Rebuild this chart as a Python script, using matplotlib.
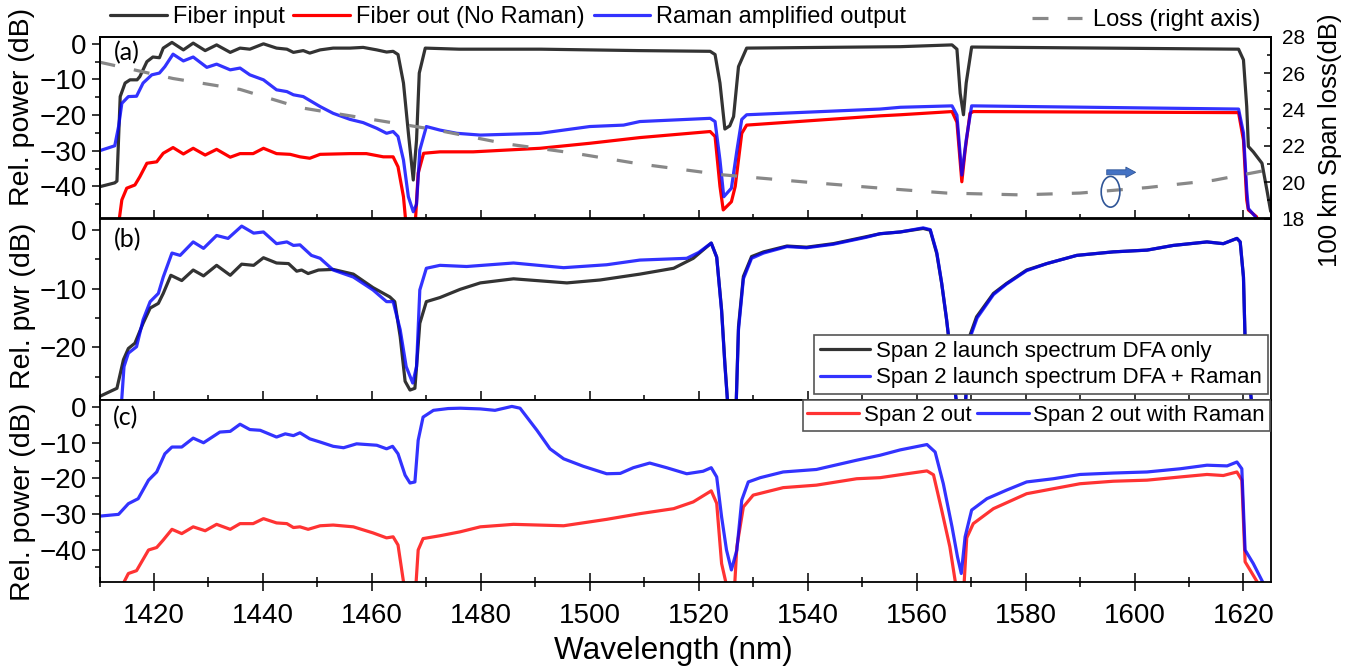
import numpy as np
import matplotlib
matplotlib.use('Agg')
import matplotlib.pyplot as plt
from matplotlib.patches import Ellipse
from matplotlib.ticker import MultipleLocator

plt.rcParams['font.family'] = ['Liberation Sans', 'DejaVu Sans']
plt.rcParams['lines.solid_joinstyle'] = 'round'
plt.rcParams['lines.solid_capstyle'] = 'round'

# ---------------- data ----------------
# Panel (a): fiber input
a_in_x = [1410, 1412.8, 1413.2, 1413.8, 1414.7, 1415.6, 1416.9, 1417.4, 1418.7, 1419.8, 1421, 1421.7,
          1423.3, 1425.4, 1427.2, 1429.4, 1431.5, 1434, 1435.8, 1437.6, 1440.1, 1442.5, 1444.4, 1445.6,
          1447.4, 1448.6, 1450.5, 1452.9, 1456, 1458.4, 1460.9, 1462.7, 1463.9, 1464.8, 1465.8, 1466.7,
          1467.6, 1468.2, 1468.7, 1469.8, 1476, 1491, 1509, 1522.1, 1523, 1523.9, 1524.8, 1525.7,
          1526.4, 1527.3, 1528.8, 1557, 1566.5, 1567.4, 1568, 1568.6, 1569.1, 1570.1, 1619.1, 1620,
          1620.6, 1620.9, 1621.8, 1623.4, 1624.3, 1625]
a_in_y = [-40.1, -39, -38.5, -14.8, -11, -10.1, -10.1, -9.2, -5, -3.7, -3.9, -1.2,
          0.4, -1.7, 0.2, -1.9, -0.3, -2.4, -1.2, -1.5, 0, -1.2, -1.5, -2.4,
          -1.9, -2.6, -1.7, -1.2, -1.2, -1.0, -1.7, -2.3, -2.1, -3, -11, -25,
          -38.2, -27, -8.2, -1.2, -1.5, -1.5, -1.9, -2.1, -3, -11, -23.9, -23,
          -20.4, -6.4, -1.2, -0.8, -0.3, -1.5, -13.9, -19.9, -11, -0.9, -1.5, -4.5,
          -17.6, -28.8, -30.3, -33.5, -41, -47]

# Panel (a): fiber out (no Raman)
a_out_x = [1413.6, 1414.1, 1415, 1416.5, 1417.4, 1418.7, 1420.5, 1421.7, 1423.5, 1425.4, 1427.2, 1429.4,
           1431.5, 1434, 1435.8, 1438.2, 1440.1, 1442.5, 1445, 1446.8, 1448.6, 1450.5, 1456, 1459,
           1462.1, 1463.9, 1464.8, 1465.8, 1466.2, 1467.0, 1468.0, 1468.5, 1469.5, 1472.5, 1478.6, 1490.9,
           1500, 1509.2, 1522.1, 1523, 1523.9, 1524.5, 1526, 1526.7, 1527.9, 1528.8, 1553.3, 1557,
           1566.5, 1567.4, 1568.3, 1568.9, 1569.8, 1570.4, 1619.1, 1620, 1620.6, 1620.9, 1622.4, 1623]
a_out_y = [-49.5, -43.8, -40.5, -39.6, -37.3, -33.5, -33.1, -30.7, -29.1, -30.9, -29.3, -31.2,
           -29.6, -31.8, -30.8, -30.8, -29.3, -30.8, -31, -31.7, -32.1, -31, -30.8, -30.8,
           -31.7, -31.7, -34.5, -42.9, -49.5, -60, -49.5, -36.3, -30.7, -30.3, -30.3, -29.3,
           -27.9, -26.3, -24.6, -26, -40, -46.6, -44.3, -40, -25.1, -22.8, -20.2, -19.9,
           -19, -22, -38.7, -30, -19.5, -19, -19.3, -27, -43.8, -46.6, -48.5, -52]

# Panel (a): Raman amplified output
a_ram_x = [1410, 1412.8, 1413.5, 1414.1, 1415.3, 1416.8, 1418, 1419.6, 1421, 1422, 1423.5, 1425.4,
           1427.2, 1429.7, 1431.5, 1434, 1435.8, 1437.6, 1440.1, 1442.5, 1444.4, 1445.6, 1447.4, 1450.5,
           1452.9, 1456, 1458.4, 1460.9, 1462.7, 1463.9, 1464.8, 1465.8, 1466.7, 1467.6, 1468.2, 1468.8,
           1470, 1472.5, 1475.6, 1479.9, 1490.9, 1500, 1506.2, 1509.2, 1522.1, 1523, 1523.9, 1524.6,
           1526, 1527, 1527.9, 1528.8, 1553.3, 1557, 1566.5, 1567.4, 1568.3, 1569.1, 1570.1, 1619.1,
           1620, 1620.6, 1620.9, 1622.2, 1623]
a_ram_y = [-30, -28.6, -23.2, -16.7, -14.8, -14.7, -11, -8.7, -8.2, -6.4, -2.9, -4.8,
           -3.7, -6.6, -5.7, -7.3, -6.8, -8.7, -10.1, -12.9, -13.4, -14.3, -14.8, -17.6,
           -19.5, -21.2, -22.1, -23.7, -25.1, -24.6, -26, -32.6, -42.9, -47.1, -45, -29.8,
           -23.2, -24.2, -25.1, -25.6, -25.1, -23.2, -22.8, -21.8, -20.9, -21.8, -32.6, -42.9,
           -40.5, -30, -21.2, -19.9, -18.3, -17.8, -17.4, -20, -36.8, -27, -17.4, -18.3,
           -25, -41, -46.2, -48.5, -52]

# Panel (a): 100 km span loss (right axis)
loss_x = [1410, 1423.5, 1435.8, 1446.8, 1459, 1471.3, 1484.8, 1497, 1509.2, 1524.5, 1539.8, 1552.1,
          1565.5, 1579, 1590, 1602.3, 1614.5, 1625]
loss_y = [26.6, 25.7, 25.1, 24.1, 23.5, 22.9, 22.1, 21.6, 21.0, 20.4, 20.0, 19.7,
          19.4, 19.3, 19.4, 19.7, 20.1, 20.7]

# Panel (b): span 2 launch spectrum, DFA only
b_dfa_x = [1410, 1413.2, 1414.4, 1415.3, 1416.5, 1418, 1419.3, 1420.8, 1421.7, 1423.1, 1425.1, 1427.2,
           1429.1, 1431.5, 1434, 1436.1, 1438.3, 1440.1, 1442.5, 1444.7, 1446.2, 1447.1, 1448.3, 1450.2,
           1452.9, 1456.6, 1460.2, 1463.3, 1464.2, 1465.2, 1466.1, 1467, 1467.9, 1468.8, 1470, 1472.5,
           1476.2, 1479.9, 1486, 1495.8, 1501.9, 1509.2, 1515.4, 1519, 1522.3, 1523.3, 1524.2, 1524.8,
           1525.5, 1526.8, 1527.3, 1528.2, 1529.7, 1531.9, 1536.2, 1539.8, 1544.7, 1550.8, 1553.3, 1557,
           1561.2, 1562.5, 1563.7, 1564.6, 1565.5, 1566.5, 1567.2, 1567.8, 1568.8, 1569.5, 1571, 1574.1,
           1576.5, 1580.2, 1583.9, 1589.4, 1596.1, 1602.3, 1607.1, 1613.3, 1616.3, 1618.8, 1619.4, 1620,
           1620.3, 1621.5, 1622]
b_dfa_y = [-28.4, -27, -22.1, -20.2, -19.3, -15.9, -13.3, -12.5, -10.8, -7.7, -8.6, -6.8,
           -7.8, -6, -7.7, -5.8, -6, -4.7, -5.6, -5.7, -7, -6.8, -7.4, -6.8,
           -6.7, -7.5, -9.8, -11.4, -12.2, -18.2, -25.8, -27.3, -27, -15.9, -12.2, -11.5,
           -10.1, -9, -8.3, -9, -8.5, -7.5, -6.5, -4.8, -2.2, -4.6, -13.6, -22.7,
           -32, -32, -16.5, -7.9, -4.5, -3.7, -2.7, -2.9, -2.3, -1.1, -0.6, -0.3,
           0.3, 0, -4, -9.1, -15.3, -23.3, -28.5, -33, -33, -18.7, -14.8, -10.8,
           -9.1, -6.8, -5.7, -4.3, -3.7, -3.4, -2.6, -2, -2.3, -1.4, -2, -8,
           -18.7, -29.5, -33]

# Panel (b): span 2 launch spectrum, DFA + Raman
b_ram_x = [1414.0, 1414.5, 1415.3, 1416.8, 1418, 1419.3, 1420.8, 1421.7, 1423.3, 1424.8, 1427.2, 1429.1,
           1431.5, 1433.6, 1436.1, 1438.3, 1440.1, 1442.5, 1444.4, 1445.6, 1446.8, 1448.9, 1450.5, 1452.9,
           1456.6, 1460.2, 1462.7, 1463.9, 1465.2, 1466.3, 1467.5, 1468.2, 1468.8, 1470, 1472.5, 1477.4,
           1486, 1495.2, 1503.1, 1509.2, 1517.8, 1520, 1522.3, 1523.3, 1524.2, 1524.8, 1525.5, 1526.8,
           1527.3, 1528.2, 1529.7, 1531.9, 1536.2, 1539.8, 1544.7, 1550.8, 1553.3, 1557, 1561.2, 1562.5,
           1563.7, 1564.6, 1565.5, 1566.5, 1567.2, 1567.8, 1568.8, 1569.6, 1571.1, 1574.1, 1576.5, 1580.2,
           1583.9, 1589.4, 1596.1, 1602.3, 1607.1, 1613.3, 1616.3, 1618.8, 1619.4, 1620, 1620.3, 1621.5,
           1622]
b_ram_y = [-30, -23.3, -21, -19.9, -15.3, -12.2, -10.8, -8, -3.9, -4.3, -2, -3.1,
           -0.9, -1.4, 0.7, -0.5, -0.3, -2.3, -2, -2.6, -2.5, -4.3, -4.8, -6.8,
           -8, -10.2, -12.2, -12.2, -17, -23.3, -26.1, -23.3, -10.2, -6.5, -6, -6.2,
           -5.6, -6.4, -5.9, -5.1, -4.8, -3.8, -2.2, -4.6, -13.8, -23, -32, -32,
           -17, -8.3, -4.8, -3.9, -2.8, -3.0, -2.4, -1.2, -0.6, -0.3, 0.4, 0.1,
           -3.8, -9, -15.2, -23.2, -28.5, -33, -33, -18.9, -15, -11, -9.2, -6.9,
           -5.7, -4.3, -3.7, -3.4, -2.6, -2, -2.3, -1.4, -2, -8, -18.7, -29.5,
           -33]

# Panel (c): span 2 out
c_out_x = [1414.2, 1415.3, 1416.8, 1419, 1420.5, 1421.7, 1423.3, 1425.1, 1427.2, 1429.4, 1431.5, 1434,
           1435.8, 1438.2, 1440.1, 1442.5, 1444.4, 1445.6, 1446.8, 1448.3, 1450.5, 1452.9, 1456.6, 1460.2,
           1462.7, 1463.9, 1464.8, 1465.8, 1466.4, 1467.2, 1468.0, 1468.5, 1469.4, 1472.5, 1476.2, 1479.9,
           1486, 1495.2, 1503.1, 1509.2, 1515.4, 1519, 1522.3, 1523.3, 1524.2, 1525.1, 1525.8, 1526.6,
           1527, 1528.2, 1530, 1535.5, 1541.6, 1549, 1553.3, 1558.2, 1561.9, 1563.1, 1564.6, 1566.1,
           1567.2, 1568.0, 1568.7, 1569.2, 1570.4, 1574.1, 1580.2, 1585.1, 1590, 1596.1, 1602.3, 1608.4,
           1613.3, 1616.3, 1618.8, 1619.7, 1620.3, 1622.5, 1623]
c_out_y = [-50, -46.7, -45.9, -40.1, -39.4, -37.3, -34.3, -35.5, -33.6, -34.7, -32.9, -34.3,
           -32.7, -32.7, -31.3, -32.5, -32.7, -33.8, -33.6, -34.3, -33.3, -33.1, -33.6, -35.3,
           -36.7, -36.4, -38.7, -49, -52, -60, -52, -40.1, -36.9, -36.1, -35, -33.6,
           -32.9, -33.3, -31.5, -29.9, -28.5, -26.6, -23.5, -27, -43.9, -50, -60, -50,
           -39.2, -28, -24.7, -22.6, -21.9, -20.1, -19.8, -18.7, -17.9, -19, -28.9, -39.2,
           -50, -60, -50, -36.7, -32.7, -28.5, -24.3, -22.9, -21.5, -20.8, -20.5, -19.6,
           -18.9, -19.2, -18.2, -20.5, -43.4, -49, -52]

# Panel (c): span 2 out with Raman
c_ram_x = [1410, 1413.5, 1415.3, 1417.1, 1419, 1420.5, 1422, 1423.3, 1425.1, 1427.2, 1429.1, 1432.1,
           1434, 1435.8, 1437.6, 1439.5, 1442.5, 1444.1, 1445.6, 1446.8, 1448.6, 1450.5, 1452.9, 1454.8,
           1457.2, 1460.9, 1462.7, 1463.8, 1464.8, 1466.1, 1467, 1467.9, 1468.5, 1469.4, 1471.3, 1474,
           1476.2, 1479.9, 1482.6, 1485.7, 1487.2, 1490.3, 1492.7, 1495.2, 1498.8, 1503.1, 1505.6, 1508,
           1511, 1514.1, 1517.8, 1520.8, 1522.3, 1523.3, 1524.2, 1525.1, 1526, 1527, 1527.9, 1529.1,
           1531.3, 1535.5, 1541.6, 1549, 1553.3, 1557, 1561.9, 1563.4, 1564.9, 1566.5, 1567.5, 1568.2,
           1568.9, 1570.1, 1572.9, 1576.5, 1580.2, 1585.1, 1590, 1596.1, 1602.3, 1608.4, 1613.3, 1617,
           1618.8, 1619.7, 1620.3, 1621.8, 1623.5, 1624]
c_ram_y = [-30.6, -30.1, -27.1, -25.7, -20.5, -18.2, -13.1, -11.2, -11.2, -8.7, -10, -7,
           -6.8, -4.8, -6.3, -6.5, -8.4, -7.5, -8, -7.2, -8.9, -9.8, -11, -11.4,
           -10.3, -10.7, -11.7, -11, -13.1, -19.1, -21.3, -21, -9.3, -2.8, -0.9, -0.4,
           -0.3, -0.5, -0.9, 0.2, -0.3, -6.5, -11.7, -14.5, -16.6, -18.7, -18.6, -17,
           -15.7, -17, -18.7, -18, -17, -19.6, -30.8, -40.1, -45.7, -40.1, -26.1, -21,
           -19.8, -18.2, -17.5, -14.9, -13.5, -12, -10.5, -12.6, -21.5, -33.6, -42, -46.7,
           -36.4, -28.9, -25.7, -23.3, -21, -20.1, -18.9, -18.5, -18.2, -17.3, -16.3, -16.5,
           -15.4, -17.3, -40.1, -43.9, -49, -52]

# ---------------- figure ----------------
W, H = 1363, 671
fig = plt.figure(figsize=(W / 100, H / 100), dpi=100)

XL, XR = 99.5, 1270.7


def rect(top, bot):
    return [XL / W, 1 - bot / H, (XR - XL) / W, (bot - top) / H]


axa = fig.add_axes(rect(36.7, 218.5))
axb = fig.add_axes(rect(218.5, 400))
axc = fig.add_axes(rect(400, 581.7))

LW = 2.3
K = (0, 0, 0, 0.8)
R1 = (1, 0, 0, 1.0)
R2 = (1, 0, 0, 0.8)
B = (0, 0, 1, 0.8)

la1, = axa.plot(a_in_x, a_in_y, color=K, lw=LW, label='Fiber input')
la2, = axa.plot(a_out_x, a_out_y, color=R1, lw=LW, label='Fiber out (No Raman)')
la3, = axa.plot(a_ram_x, a_ram_y, color=B, lw=LW, label='Raman amplified output')

axr = axa.twinx()
lloss, = axr.plot(loss_x, loss_y, color='#888888', lw=LW, label='Loss (right axis)')
lloss.set_dashes((5, 6))
lloss.set_dash_capstyle('butt')
axr.set_ylim(18, 28)
axr.yaxis.set_major_locator(MultipleLocator(2))
axr.yaxis.set_minor_locator(MultipleLocator(1))
axr.tick_params(axis='y', which='major', direction='in', length=5, width=1.1, labelsize=15, pad=8)
axr.tick_params(axis='y', which='minor', direction='in', length=3, width=1.1)

# ellipse + arrow marking the right-axis curve
axr.add_patch(Ellipse((1595.6, 19.47), 3.43, 1.69, fill=False, ec='#2f5597', lw=1.2, zorder=5))
axr.annotate('', xy=(1600.2, 20.54), xytext=(1594.9, 20.54),
             arrowprops=dict(arrowstyle='simple,head_length=0.7,head_width=0.75,tail_width=0.36',
                             fc='#4472c4', ec='#2f5597', lw=0.6, mutation_scale=10, shrinkA=0, shrinkB=0))

lb1, = axb.plot(b_dfa_x, b_dfa_y, color=K, lw=LW, label='Span 2 launch spectrum DFA only')
lb2, = axb.plot(b_ram_x, b_ram_y, color=B, lw=LW, label='Span 2 launch spectrum DFA + Raman')

lc1, = axc.plot(c_out_x, c_out_y, color=R2, lw=LW, label='Span 2 out')
lc2, = axc.plot(c_ram_x, c_ram_y, color=B, lw=LW, label='Span 2 out with Raman')

axa.set_ylim(-49, 2)
axb.set_ylim(-29, 2)
axc.set_ylim(-49, 2)

for ax in (axa, axb, axc):
    ax.set_xlim(1410, 1625)
    ax.xaxis.set_major_locator(MultipleLocator(20))
    ax.xaxis.set_minor_locator(MultipleLocator(10))
    ax.yaxis.set_major_locator(MultipleLocator(10))
    ax.yaxis.set_minor_locator(MultipleLocator(5))
    ax.tick_params(axis='x', which='major', direction='inout', length=13, width=1.1,
                   labelsize=20, pad=8.5, top=False)
    ax.tick_params(axis='x', which='minor', direction='inout', length=7.7, width=1.1, top=False)
    ax.tick_params(axis='y', which='major', direction='out', length=5.8, width=1.1,
                   labelsize=20, pad=3.6, right=False)
    ax.tick_params(axis='y', which='minor', direction='out', length=3.6, width=1.1, right=False)
    for s in ax.spines.values():
        s.set_linewidth(1.3)
for s in axr.spines.values():
    s.set_linewidth(1.3)

axa.tick_params(labelbottom=False)
axb.tick_params(labelbottom=False)

# axis labels
fs_lab = 20.5
fig.text(22 / W, 1 - 107 / H, 'Rel. power (dB)', rotation=90, ha='center', va='center', fontsize=fs_lab)
fig.text(23 / W, 1 - 305.5 / H, 'Rel. pwr (dB)', rotation=90, ha='center', va='center', fontsize=fs_lab)
fig.text(23 / W, 1 - 501.7 / H, 'Rel. power (dB)', rotation=90, ha='center', va='center', fontsize=fs_lab)
fig.text(1330 / W, 1 - 140 / H, '100 km Span loss(dB)', rotation=90, ha='center', va='center', fontsize=18.5)
fig.text(673 / W, 1 - 651 / H, 'Wavelength (nm)', ha='center', va='center', fontsize=22.7)

# panel tags
for txt, (px, py) in zip(['(a)', '(b)', '(c)'], [(126.7, 53), (128, 240), (126, 418)]):
    fig.text(px / W, 1 - py / H, txt, ha='center', va='center', fontsize=18,
             family=['Lato', 'DejaVu Sans'])

# legends
fig.legend(handles=[la1, la2, la3], loc='center left', bbox_to_anchor=(110 / W, 1 - 17 / H),
           ncol=3, frameon=False, fontsize=17, handlelength=2.4, handletextpad=0.25,
           columnspacing=0.38, borderpad=0, borderaxespad=0)
fig.legend(handles=[lloss], loc='center left', bbox_to_anchor=(1031.7 / W, 1 - 20 / H),
           frameon=False, fontsize=17, handlelength=2.12, handletextpad=0.48,
           borderpad=0, borderaxespad=0)

legb = axb.legend(handles=[lb1, lb2], loc='upper right', bbox_to_anchor=(1268 / W, 1 - 335 / H),
                  bbox_transform=fig.transFigure, fontsize=16, frameon=True, fancybox=False,
                  edgecolor='#555555', framealpha=1, borderpad=0.26, labelspacing=0.25,
                  handlelength=2.25, handletextpad=0.3, borderaxespad=0)
legb.get_frame().set_linewidth(1.2)

legc = axc.legend(handles=[lc1, lc2], loc='upper right', bbox_to_anchor=(1270 / W, 1 - 400 / H),
                  bbox_transform=fig.transFigure, ncol=2, fontsize=16, frameon=True, fancybox=False,
                  edgecolor='#555555', framealpha=1, borderpad=0.22, handlelength=2.34,
                  handletextpad=0.2, columnspacing=0.25, borderaxespad=0)
legc.get_frame().set_linewidth(1.2)

fig.savefig('out.png', dpi=100)
